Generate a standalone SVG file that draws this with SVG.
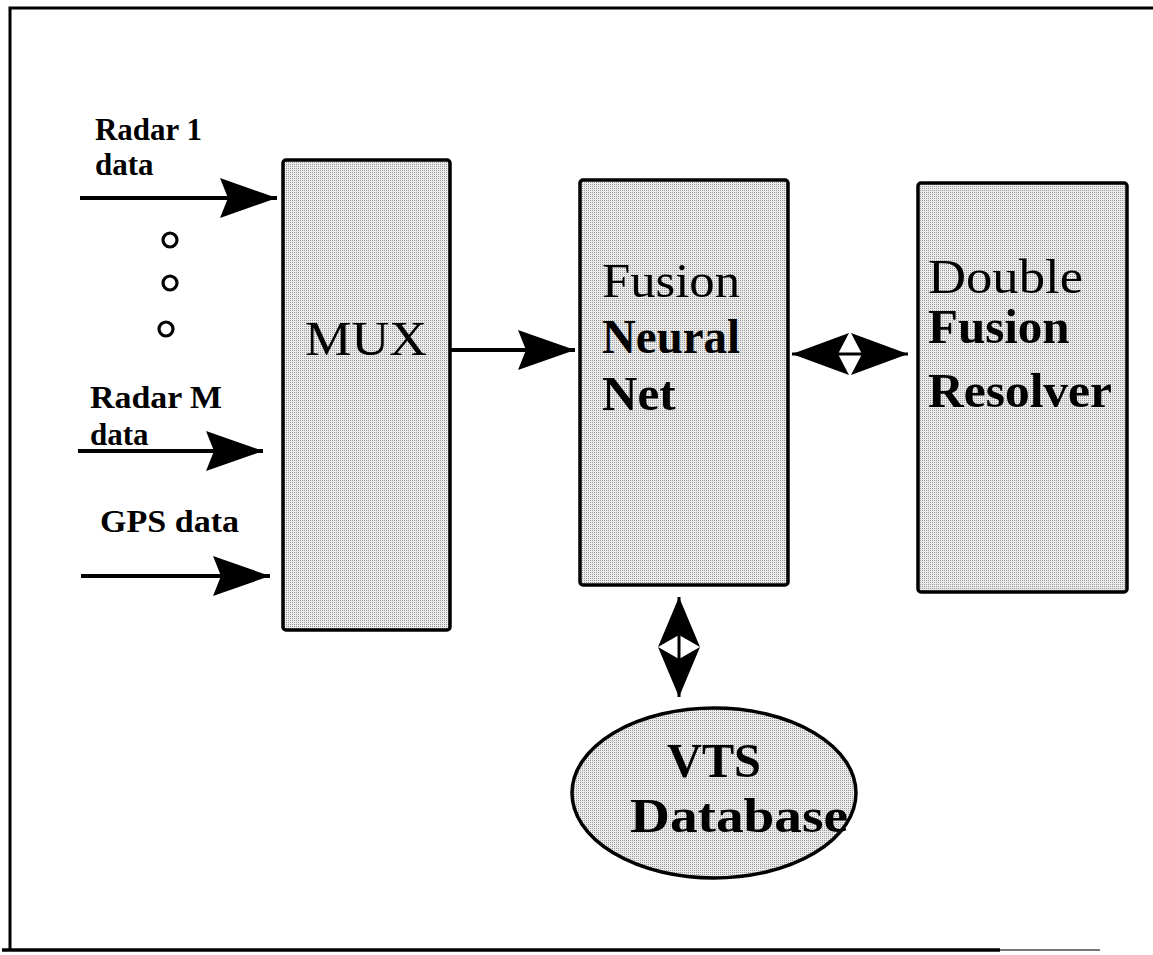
<svg xmlns="http://www.w3.org/2000/svg" width="1153" height="955" viewBox="0 0 1153 955">
<style>
.box{fill:url(#ht);stroke:#000;stroke-width:3.5}
.lbl{font-family:"Liberation Serif","Times New Roman",serif;font-weight:bold;font-size:31px;fill:#000}
.big{font-family:"Liberation Serif","Times New Roman",serif;font-size:49px;fill:#000}
.b{font-weight:bold}
.wire{stroke:#000;stroke-width:4;fill:none}
.dot{fill:#fff;stroke:#000;stroke-width:3.2}
.frame{stroke:#000;stroke-width:3;fill:none}
</style>
<defs>
<pattern id="ht" width="2" height="2" patternUnits="userSpaceOnUse">
<rect width="2" height="2" fill="#ebebeb"/>
<rect width="1" height="1" fill="#9a9a9a"/>
</pattern>
<marker id="ah" viewBox="0 0 57 40" refX="57" refY="20" markerWidth="57" markerHeight="40" markerUnits="userSpaceOnUse" orient="auto">
<path d="M0,0 L57,20 L0,40 L8,20 Z" fill="#000"/>
</marker>
<marker id="dh" viewBox="0 0 57 42" refX="57" refY="21" markerWidth="57" markerHeight="42" markerUnits="userSpaceOnUse" orient="auto-start-reverse">
<path d="M0,0 L57,21 L0,42 L11,21 Z" fill="#000"/>
</marker>
<marker id="dv" viewBox="0 0 50 42" refX="50" refY="21" markerWidth="50" markerHeight="42" markerUnits="userSpaceOnUse" orient="auto-start-reverse">
<path d="M0,0 L50,21 L0,42 L12,21 Z" fill="#000"/>
</marker>
</defs>
<rect width="1153" height="955" fill="#fff"/>
<g id="frame">
<path class="frame" d="M10,950 L10,8 L1153,8"/>
<path d="M2,950 L1000,950" stroke="#000" stroke-width="3.5"/>
<path d="M1000,950 L1100,950" stroke="#777" stroke-width="2"/>
</g>
<g id="connectors">
<line class="wire" x1="80" y1="198" x2="277" y2="198" marker-end="url(#ah)"/>
<line class="wire" x1="78" y1="451" x2="263" y2="451" marker-end="url(#ah)"/>
<line class="wire" x1="81" y1="576" x2="270" y2="576" marker-end="url(#ah)"/>
<line class="wire" x1="450" y1="350" x2="575" y2="350" marker-end="url(#ah)"/>
<line x1="792" y1="354" x2="908" y2="354" stroke="#000" stroke-width="3" marker-start="url(#dh)" marker-end="url(#dh)"/>
<line x1="679" y1="597" x2="679" y2="697" stroke="#000" stroke-width="3" marker-start="url(#dv)" marker-end="url(#dv)"/>
</g>
<g id="inputs">
<text class="lbl" x="95" y="140" textLength="107" lengthAdjust="spacingAndGlyphs">Radar 1</text>
<text class="lbl" x="95" y="175">data</text>
<circle class="dot" cx="170" cy="240" r="7"/>
<circle class="dot" cx="170" cy="283" r="7"/>
<circle class="dot" cx="166" cy="329" r="7"/>
<text class="lbl" x="90" y="408" textLength="132" lengthAdjust="spacingAndGlyphs">Radar M</text>
<text class="lbl" x="90" y="445">data</text>
<text class="lbl" x="100" y="532" textLength="139" lengthAdjust="spacingAndGlyphs">GPS data</text>
</g>
<g id="mux">
<rect class="box" x="283" y="160" width="167" height="470" rx="3"/>
<text class="big" x="305" y="355" font-size="52" textLength="122" lengthAdjust="spacingAndGlyphs">MUX</text>
</g>
<g id="fusion-neural-net">
<rect class="box" x="580" y="180" width="208" height="405" rx="3"/>
<text class="big" x="602" y="297" textLength="138" lengthAdjust="spacingAndGlyphs">Fusion</text>
<text class="big b" x="602" y="353" textLength="138" lengthAdjust="spacingAndGlyphs">Neural</text>
<text class="big b" x="602" y="410">Net</text>
</g>
<g id="double-fusion-resolver">
<rect class="box" x="918" y="183" width="209" height="409" rx="3"/>
<text class="big" x="928" y="293" textLength="155" lengthAdjust="spacingAndGlyphs">Double</text>
<text class="big b" x="928" y="343">Fusion</text>
<text class="big b" x="928" y="407" textLength="184" lengthAdjust="spacingAndGlyphs">Resolver</text>
</g>
<g id="vts-database">
<ellipse class="box" cx="714" cy="793" rx="142" ry="85"/>
<text class="big b" x="667" y="777" font-size="50" textLength="94" lengthAdjust="spacingAndGlyphs">VTS</text>
<text class="big b" x="630" y="832" font-size="52" textLength="218" lengthAdjust="spacingAndGlyphs">Database</text>
</g>
</svg>
